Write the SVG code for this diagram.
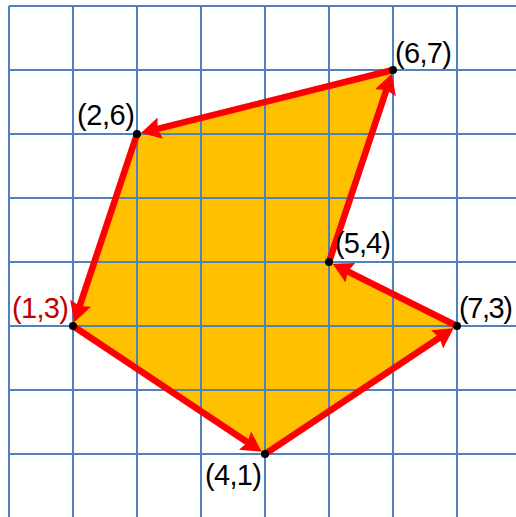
<svg xmlns="http://www.w3.org/2000/svg" width="516" height="517" viewBox="0 0 516 517">
<style>
.grid{stroke:#4F81BD;stroke-width:2;fill:none}
.edge{stroke:#FF0000;stroke-width:6.5;fill:none;stroke-linecap:round;marker-end:url(#ah)}
.dot{fill:#000}
.lbl{font-family:"Liberation Sans",Arial,sans-serif;font-size:29px;fill:#000}
.red{fill:#C00000}
</style>
<defs>
<marker id="ah" markerUnits="userSpaceOnUse" viewBox="0 0 20 22" markerWidth="20" markerHeight="22" refX="6" refY="11" orient="auto">
<path d="M0,0 L20,11 L0,22 L3,11 z" fill="#FF0000"/>
</marker>
</defs>
<rect width="516" height="517" fill="#fff"/>
<polygon points="73,326 265,454 457,326 329,262 393,70 137,134" fill="#FFC000"/>
<g id="grid" class="grid">
<path d="M9,6V517M73,6V517M137,6V517M201,6V517M265,6V517M329,6V517M393,6V517M457,6V517"/>
<path d="M9,6H516M9,70H516M9,134H516M9,198H516M9,262H516M9,326H516M9,390H516M9,454H516"/>
</g>
<g id="connectors">
<line class="edge" x1="73" y1="326" x2="250" y2="444"/>
<line class="edge" x1="265" y1="454" x2="442" y2="336"/>
<line class="edge" x1="457" y1="326" x2="345.1" y2="270.1"/>
<line class="edge" x1="329" y1="262" x2="387.3" y2="87.1"/>
<line class="edge" x1="393" y1="70" x2="154.5" y2="129.6"/>
<line class="edge" x1="137" y1="134" x2="78.7" y2="308.9"/>
</g>
<g id="p13"><circle class="dot" cx="73" cy="326" r="4"/><text class="lbl red" x="12" y="318" textLength="57">(1,3)</text></g>
<g id="p26"><circle class="dot" cx="137" cy="134" r="4"/><text class="lbl" x="77" y="125" textLength="58">(2,6)</text></g>
<g id="p41"><circle class="dot" cx="265" cy="454" r="4"/><text class="lbl" x="205" y="485" textLength="57">(4,1)</text></g>
<g id="p54"><circle class="dot" cx="329" cy="262" r="4"/><text class="lbl" x="335" y="253" textLength="56">(5,4)</text></g>
<g id="p67"><circle class="dot" cx="393" cy="70" r="4"/><text class="lbl" x="395" y="63" textLength="57">(6,7)</text></g>
<g id="p73"><circle class="dot" cx="457" cy="326" r="4"/><text class="lbl" x="459" y="318" textLength="54">(7,3)</text></g>
</svg>
